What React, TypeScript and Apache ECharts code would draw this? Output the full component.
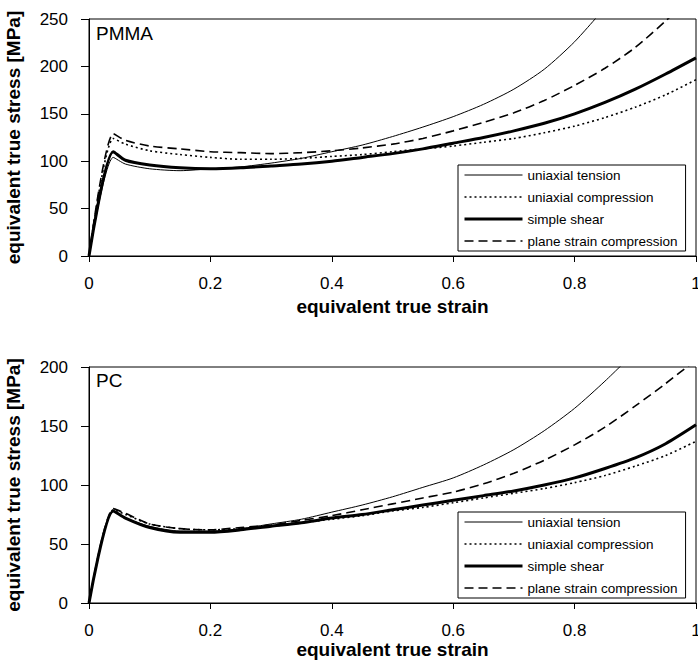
import React, { useEffect, useRef } from "react";
import * as echarts from "echarts";

const seriesNames = [
  "uniaxial tension",
  "uniaxial compression",
  "simple shear",
  "plane strain compression",
];

const strain = [0, 0.04, 0.06, 0.1, 0.15, 0.2, 0.25, 0.3, 0.35, 0.4, 0.45, 0.5, 0.55, 0.6, 0.65, 0.7, 0.75, 0.8, 0.85, 0.9, 0.95, 1.0];

// PMMA (top panel) stress values [MPa]
const pmmaTension = [0, 104, 97, 92, 90, 92, 94, 98, 103, 110, 117, 126, 136, 147, 160, 176, 197, 226, 262];
const pmmaCompression = [0, 124, 118, 111, 107, 104, 102, 102, 103, 105, 107, 110, 113, 116, 120, 124, 130, 137, 146, 157, 170, 186];
const pmmaShear = [0, 110, 101, 96, 93, 92, 93, 95, 97, 100, 104, 108, 113, 119, 125, 132, 140, 150, 162, 176, 192, 209];
const pmmaPlaneStrain = [0, 129, 122, 116, 113, 110, 109, 108, 109, 111, 114, 118, 124, 132, 141, 151, 164, 180, 198, 220, 248, 278];

// PC (bottom panel) stress values [MPa]
const pcTension = [0, 78, 72, 65, 61, 61, 63, 67, 71, 77, 83, 90, 98, 106, 117, 130, 146, 165, 188, 213];
const pcCompression = [0, 79, 75, 67, 63, 62, 63, 65, 68, 71, 74, 78, 81, 85, 89, 93, 97, 102, 108, 116, 125, 137];
const pcShear = [0, 78, 72, 64, 60, 60, 62, 65, 68, 72, 75, 79, 83, 87, 91, 95, 100, 106, 114, 123, 135, 151];
const pcPlaneStrain = [0, 80, 76, 67, 63, 62, 64, 66, 70, 74, 79, 84, 89, 94, 101, 110, 121, 134, 149, 167, 186, 206];

const pmmaYMax = 250;
const pcYMax = 200;

const FONT = "'Liberation Sans', Arial, Helvetica, sans-serif";

function pairs(ys: number[]) {
  return ys.map((y, i) => [strain[i], y]);
}

const lineStyles = [
  { width: 1, type: "solid" as any },
  { width: 1.6, type: [2, 3] as any },
  { width: 3, type: "solid" as any },
  { width: 1.6, type: [9, 5] as any },
];

export default function App() {
  const ref = useRef<HTMLDivElement>(null);

  useEffect(() => {
    document.body.style.margin = "0";
    if (!ref.current) return;
    const chart = echarts.init(ref.current, undefined, { renderer: "svg" });

    const panels = [
      [pmmaTension, pmmaCompression, pmmaShear, pmmaPlaneStrain],
      [pcTension, pcCompression, pcShear, pcPlaneStrain],
    ];

    const series: any[] = [];
    panels.forEach((set, gi) => {
      set.forEach((ys, si) => {
        series.push({
          name: seriesNames[si],
          type: "line",
          xAxisIndex: gi,
          yAxisIndex: gi,
          data: pairs(ys),
          symbol: "none",
          showSymbol: false,
          smooth: 0.25,
          clip: true,
          lineStyle: { color: "#000", ...lineStyles[si] },
          itemStyle: { color: "#000" },
          z: si === 2 ? 3 : 2,
        });
      });
    });

    const xAxisBase = (gi: number, gap: number) => ({
      type: "value",
      gridIndex: gi,
      min: 0,
      max: 1,
      interval: 0.2,
      name: "equivalent true strain",
      nameLocation: "middle",
      nameGap: gap,
      nameTextStyle: { fontFamily: FONT, fontWeight: "bold", fontSize: 19, color: "#000" },
      axisLine: { show: true, lineStyle: { color: "#000", width: 1 } },
      axisTick: { show: true, length: 6, lineStyle: { color: "#000" } },
      axisLabel: {
        fontFamily: FONT,
        fontSize: 17,
        color: "#000",
        margin: 19,
        formatter: (v: number) => String(Math.round(v * 10) / 10),
      },
      splitLine: { show: false },
    });

    const yAxisBase = (gi: number, max: number) => ({
      type: "value",
      gridIndex: gi,
      min: 0,
      max,
      interval: 50,
      name: "equivalent true stress [MPa]",
      nameLocation: "middle",
      nameGap: 66,
      nameRotate: 90,
      nameTextStyle: { fontFamily: FONT, fontWeight: "bold", fontSize: 19, color: "#000" },
      axisLine: { show: true, lineStyle: { color: "#000", width: 1 } },
      axisTick: { show: true, length: 8, lineStyle: { color: "#000" } },
      axisLabel: { fontFamily: FONT, fontSize: 17, color: "#000", margin: 21 },
      splitLine: { show: false },
    });

    const legendData = seriesNames.map((name, i) => ({
      name,
      lineStyle: { width: lineStyles[i].width, type: lineStyles[i].type, color: "#000" },
    }));

    const legendBase = (top: number) => ({
      orient: "vertical",
      left: 458,
      top,
      data: legendData,
      itemWidth: 58,
      itemHeight: 14,
      itemGap: 8,
      padding: [3, 8, 3, 5],
      borderColor: "#000",
      borderWidth: 1,
      backgroundColor: "#fff",
      selectedMode: false,
      itemStyle: { opacity: 0 },
      textStyle: { fontFamily: FONT, fontSize: 13.5, color: "#000" },
    });

    chart.setOption({
      animation: false,
      backgroundColor: "#fff",
      grid: [
        { left: 89, top: 19, width: 607, height: 237, show: true, borderColor: "#000", borderWidth: 1, backgroundColor: "transparent", outerBoundsMode: "none" },
        { left: 89, top: 367, width: 607, height: 236, show: true, borderColor: "#000", borderWidth: 1, backgroundColor: "transparent", outerBoundsMode: "none" },
      ],
      xAxis: [xAxisBase(0, 41), xAxisBase(1, 37)],
      yAxis: [yAxisBase(0, pmmaYMax), yAxisBase(1, pcYMax)],
      legend: [legendBase(165), legendBase(512)],
      graphic: [
        { type: "text", left: 96, top: 24, style: { text: "PMMA", fill: "#000", font: `19px ${FONT}` } },
        { type: "text", left: 96, top: 371, style: { text: "PC", fill: "#000", font: `19px ${FONT}` } },
      ],
      series,
    });

    return () => chart.dispose();
  }, []);

  return <div ref={ref} style={{ width: 698, height: 661 }} />;
}
